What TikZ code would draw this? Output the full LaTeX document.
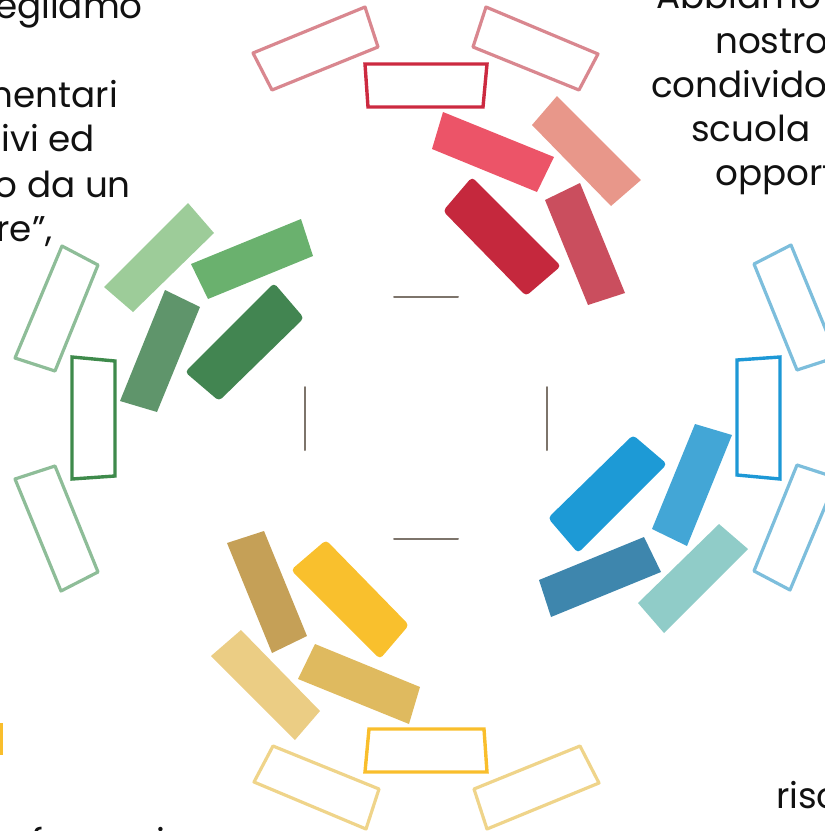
\documentclass[tikz,border=0pt]{standalone}
\usepackage{fontspec}
\setmainfont{Poppins}
\definecolor{rOut}{HTML}{D9878F}
\definecolor{rTrap}{HTML}{CC2A40}
\definecolor{rA}{HTML}{EC5468}
\definecolor{rB}{HTML}{E8978A}
\definecolor{rC}{HTML}{C5283D}
\definecolor{rD}{HTML}{CA4E5E}
\definecolor{bOut}{HTML}{7DBEDC}
\definecolor{bTrap}{HTML}{1D98D6}
\definecolor{bA}{HTML}{43A6D6}
\definecolor{bB}{HTML}{90CCC8}
\definecolor{bC}{HTML}{1D9AD6}
\definecolor{bD}{HTML}{3E86AD}
\definecolor{yOut}{HTML}{EFD48A}
\definecolor{yTrap}{HTML}{F9BE2C}
\definecolor{yA}{HTML}{DFBA5F}
\definecolor{yB}{HTML}{EBCD84}
\definecolor{yC}{HTML}{F9C02D}
\definecolor{yD}{HTML}{C5A057}
\definecolor{gOut}{HTML}{8EBD98}
\definecolor{gTrap}{HTML}{3E8A4B}
\definecolor{gA}{HTML}{5F956B}
\definecolor{gB}{HTML}{9DCC99}
\definecolor{gC}{HTML}{428551}
\definecolor{gD}{HTML}{6AB16E}
\definecolor{tickc}{HTML}{7D746B}
\definecolor{txt}{HTML}{111111}
\tikzset{
  outl/.style={line width=3.2pt, line join=round},
  trapz/.style={line width=3.4pt, line join=miter},
  tick/.style={draw=tickc, line width=2pt, line cap=round},
  para/.style={inner sep=0pt, text=txt, font=\fontsize{35.75}{48}\selectfont},
}
\newcommand{\petalgroup}[6]{%
  \draw[outl, draw=#1] (253,53) -- (365,7) -- (378,47) -- (272,90) -- cycle;
  \draw[outl, draw=#1] (486,7) -- (598,54) -- (579,90) -- (473,47) -- cycle;
  \draw[trapz, draw=#2] (365,64) -- (487,64) -- (483,107) -- (368,107) -- cycle;
  \fill[#3] (443,112) -- (554,157) -- (537,192) -- (432,149) -- cycle;
  \fill[#4] (557,96) -- (641,180) -- (611,206) -- (532,125) -- cycle;
  \fill[#5, rounded corners=4pt] (472,177) -- (561,266) -- (526,296) -- (443,211) -- cycle;
  \fill[#6] (580,183) -- (625,293) -- (588,305) -- (545,200) -- cycle;
}
\begin{document}
\begin{tikzpicture}[x=1pt, y=-1pt]
  \useasboundingbox (0,0) rectangle (825,831);
  \clip (0,0) rectangle (825,831);
  % four groups
  \petalgroup{rOut}{rTrap}{rA}{rB}{rC}{rD}
  \begin{scope}[rotate around={-90:(426,418)}]
    \petalgroup{bOut}{bTrap}{bA}{bB}{bC}{bD}
  \end{scope}
  \begin{scope}[rotate around={180:(426,418)}]
    \petalgroup{yOut}{yTrap}{yA}{yB}{yC}{yD}
  \end{scope}
  \begin{scope}[rotate around={90:(426,418)}]
    \petalgroup{gOut}{gTrap}{gA}{gB}{gC}{gD}
  \end{scope}
  % centre ticks
  \draw[tick] (394,297) -- (458,297);
  \draw[tick] (394,539) -- (458,539);
  \draw[tick] (305,387) -- (305,450);
  \draw[tick] (547,387) -- (547,450);
  % small yellow mark at left edge
  \fill[yTrap] (0,723) rectangle (2.5,755);
  % text fragments, left block
  \node[para, anchor=base east] (l1) at (143,18) {egliamo};
  \node[para, anchor=base east] (l2) at (118,107) {mentari};
  \node[para, anchor=base east] (l3) at (95,151) {ivi ed};
  \node[para, anchor=base east] (l4) at (131,197) {o da un};
  \node[para, anchor=base east] (l5) at (53,241) {re”,};
  % right block
  \node[para, anchor=base west] (r1) at (656,8) {Abbiamo};
  \node[para, anchor=base west] (r2) at (715,53) {nostro};
  \node[para, anchor=base west] (r3) at (651,97) {condivido};
  \node[para, anchor=base west] (r4) at (691,141) {scuola};
  \node[para, anchor=base west] (r5) at (715,185) {opportunità};
  \node[para, anchor=base west] (r6) at (776,808) {risc};
  % bottom left
  \node[para, anchor=base west] (b1) at (31,854) {formazione};
\end{tikzpicture}
\end{document}
